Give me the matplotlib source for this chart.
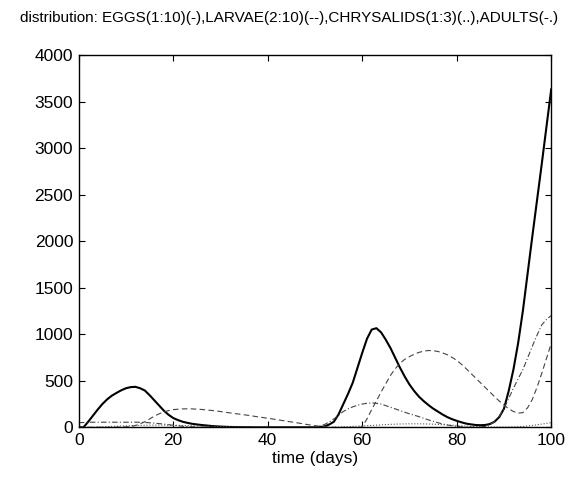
import numpy as np
import matplotlib.pyplot as plt

plt.rcParams['font.family'] = ['Liberation Sans', 'DejaVu Sans']

# daily population counts, day 0 .. 100
days = list(range(0, 101))

eggs = [0, 0, 60, 125, 190, 250, 300, 340, 370, 398,
        420, 432, 435, 420, 395, 345, 290, 235, 180, 135,
        100, 78, 60, 48, 38, 31, 25, 20, 15, 11,
        8, 6, 4, 3, 2, 1, 1, 0, 0, 0,
        0, 0, 0, 0, 0, 0, 0, 0, 0, 0,
        0, 2, 10, 30, 60, 140, 250, 360, 480, 640,
        800, 950, 1050, 1065, 1020, 940, 850, 745, 640, 545,
        460, 390, 330, 282, 240, 202, 170, 138, 110, 88,
        70, 54, 40, 32, 25, 23, 25, 35, 60, 110,
        200, 390, 620, 905, 1250, 1650, 2050, 2440, 2830, 3230,
        3630]

larvae = [0, 0, 0, 0, 0, 0, 0, 0, 2, 3,
          5, 10, 20, 38, 60, 90, 120, 145, 165, 180,
          190, 195, 198, 199, 198, 195, 192, 187, 182, 176,
          170, 162, 155, 148, 142, 135, 128, 120, 112, 105,
          97, 90, 82, 74, 66, 58, 50, 42, 33, 25,
          18, 11, 6, 2, 0, 0, 0, 0, 0, 0,
          5, 90, 190, 285, 380, 470, 560, 630, 690, 730,
          760, 785, 805, 818, 825, 823, 815, 800, 780, 752,
          720, 677, 630, 580, 530, 480, 430, 380, 330, 283,
          240, 200, 170, 152, 158, 210, 300, 430, 580, 740,
          900]

chrysalids = [0, 1, 2, 3, 5, 6, 8, 10, 12, 14,
              16, 18, 20, 21, 22, 23, 24, 24, 24, 23,
              22, 21, 20, 18, 17, 15, 14, 12, 11, 9,
              8, 7, 6, 5, 4, 4, 3, 3, 2, 2,
              1, 1, 1, 0, 0, 0, 0, 0, 0, 0,
              0, 0, 0, 1, 2, 3, 5, 7, 10, 12,
              15, 18, 20, 23, 26, 29, 32, 34, 36, 37,
              38, 38, 38, 37, 36, 34, 32, 29, 26, 23,
              20, 17, 14, 11, 9, 7, 5, 4, 3, 3,
              3, 4, 5, 7, 10, 14, 20, 27, 35, 42,
              50]

adults = [50, 52, 55, 55, 55, 55, 55, 55, 55, 55,
          55, 55, 55, 54, 52, 49, 45, 40, 35, 28,
          22, 16, 12, 8, 6, 4, 3, 2, 1, 0,
          0, 0, 0, 0, 0, 0, 0, 0, 0, 0,
          0, 0, 0, 0, 0, 0, 0, 0, 0, 0,
          5, 15, 30, 58, 90, 130, 170, 198, 220, 237,
          250, 258, 262, 258, 250, 233, 215, 198, 180, 162,
          145, 130, 115, 97, 80, 65, 50, 37, 25, 17,
          10, 5, 3, 2, 2, 4, 10, 30, 60, 120,
          200, 310, 420, 520, 620, 745, 870, 990, 1100, 1160,
          1200]

fig = plt.figure(figsize=(5.79, 4.78), dpi=100)
ax = fig.add_axes([0.136, 0.106, 0.816, 0.779])

ax.plot(days, eggs, '-', color='black', lw=1.5)
ax.plot(days, larvae, '--', color='#444444', lw=0.8, dashes=(5, 3))
ax.plot(days, chrysalids, ':', color='#555555', lw=0.8)
ax.plot(days, adults, '-.', color='#444444', lw=0.8, dashes=(5, 2, 1, 2))

ax.set_xlim(0, 100)
ax.set_ylim(0, 4000)
ax.set_xticks(range(0, 101, 20))
ax.set_yticks(range(0, 4001, 500))
ax.tick_params(direction='in', top=True, right=True, length=4, width=0.8,
               labelsize=12.5, pad=4)
for s in ax.spines.values():
    s.set_linewidth(1.0)

ax.set_xlabel('time (days)', fontsize=12.5, labelpad=2)
fig.text(0.5, 0.962,
         'distribution: EGGS(1:10)(-),LARVAE(2:10)(--),CHRYSALIDS(1:3)(..),ADULTS(-.)',
         ha='center', va='center', fontsize=11)

fig.savefig('out.png', dpi=100)
